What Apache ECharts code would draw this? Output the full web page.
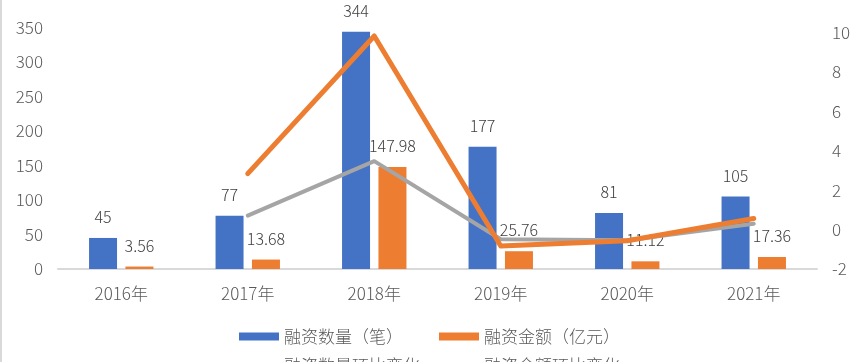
<!DOCTYPE html>
<html>
<head>
<meta charset="utf-8">
<script src="https://cdn.jsdelivr.net/npm/echarts@6/dist/echarts.min.js"></script>
<style>
html,body{margin:0;padding:0;background:#fff;overflow:hidden;}
#wrap{position:relative;width:864px;height:362px;overflow:hidden;}
#c{position:absolute;left:0;top:-7px;width:864px;height:369px;}
#bd{position:absolute;left:0;top:0;width:2px;height:362px;background:#d9d9d9;}
</style>
</head>
<body>
<div id="wrap"><div id="c"></div><div id="bd"></div></div>
<script>
var categories = ['2016年','2017年','2018年','2019年','2020年','2021年'];
var countValues = [45, 77, 344, 177, 81, 105];
var amountValues = [3.56, 13.68, 147.98, 25.76, 11.12, 17.36];
var countChange = [null, 0.71, 3.47, -0.49, -0.54, 0.30];
var amountChange = [null, 2.84, 9.82, -0.83, -0.57, 0.56];
var seriesNames = ['融资数量（笔）','融资金额（亿元）','融资数量环比变化','融资金额环比变化'];

var FONT = '"Noto Sans CJK SC","Noto Sans",sans-serif';
var W = 300;
var chart = echarts.init(document.getElementById('c'), null, {renderer:'canvas'});
function leg(name, left, top, icon, h, color){
  return {
    data:[{name:name, icon:icon, itemStyle:{color:color}}], left:left, top:top, itemWidth:40, itemHeight:h,
    itemGap:0, padding:0,
    textStyle:{fontFamily:FONT, fontSize:17, fontWeight:W, color:'#595959'}
  };
}
chart.setOption({
  animation:false,
  backgroundColor:'#fff',
  textStyle:{fontFamily:FONT},
  grid:{left:58, right:47, top:0, bottom:93, containLabel:false, outerBoundsMode:'none'},
  legend:[
    leg(seriesNames[0], 239, 335, 'rect', 8, '#4472C4'),
    leg(seriesNames[1], 439, 335, 'rect', 8, '#ED7D31'),
    leg(seriesNames[2], 239, 364, 'rect', 4, '#A5A5A5'),
    leg(seriesNames[3], 439, 364, 'rect', 4, '#ED7D31')
  ],
  xAxis:{
    type:'category', data:categories,
    axisLine:{lineStyle:{color:'#d9d9d9', width:2}},
    axisTick:{show:false},
    axisLabel:{fontSize:17, fontWeight:W, color:'#595959', margin:16, fontFamily:FONT}
  },
  yAxis:[
    {type:'value', min:0, max:400, interval:50,
     splitLine:{show:false}, axisLine:{show:false}, axisTick:{show:false},
     axisLabel:{fontSize:17, fontWeight:W, color:'#595959', margin:15, fontFamily:FONT}},
    {type:'value', min:-2, max:12, interval:2,
     splitLine:{show:false}, axisLine:{show:false}, axisTick:{show:false},
     axisLabel:{fontSize:17, fontWeight:W, color:'#595959', margin:15, fontFamily:FONT}}
  ],
  series:[
    {name:seriesNames[0], type:'bar', data:countValues, barWidth:28, barGap:'30%',
     itemStyle:{color:'#4472C4'},
     label:{show:true, position:'top', distance:13, fontSize:16, fontWeight:W, color:'#404040', fontFamily:FONT}},
    {name:seriesNames[1], type:'bar', data:amountValues, barWidth:28,
     itemStyle:{color:'#ED7D31'},
     label:{show:true, position:'top', distance:13, fontSize:16, fontWeight:W, color:'#404040', fontFamily:FONT}},
    {name:seriesNames[2], type:'line', yAxisIndex:1, data:countChange, showSymbol:false, symbol:'none',
     itemStyle:{color:'#A5A5A5'},
     lineStyle:{color:'#A5A5A5', width:4, cap:'round', join:'round'}},
    {name:seriesNames[3], type:'line', yAxisIndex:1, data:amountChange, showSymbol:false, symbol:'none',
     itemStyle:{color:'#ED7D31'},
     lineStyle:{color:'#ED7D31', width:5, cap:'round', join:'round'}}
  ]
});
</script>
</body>
</html>
